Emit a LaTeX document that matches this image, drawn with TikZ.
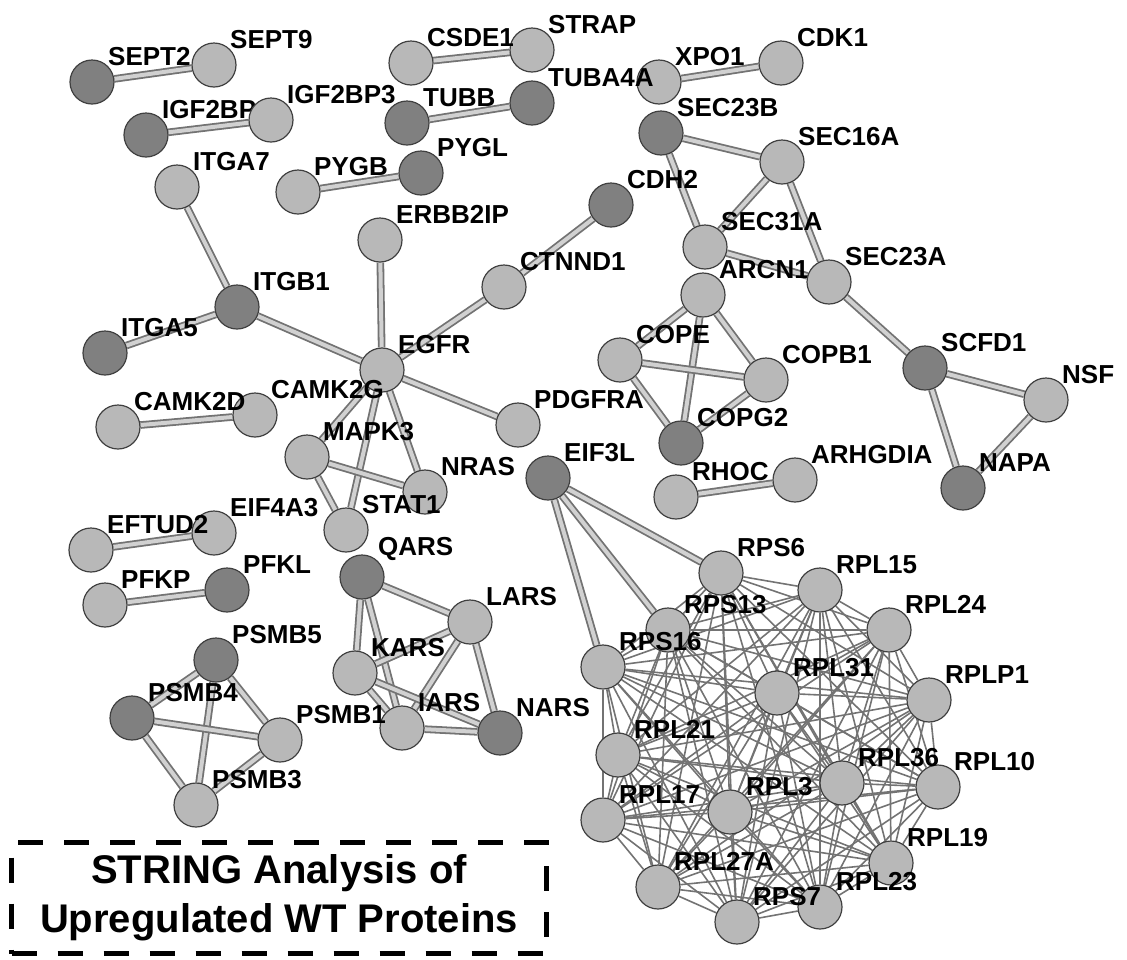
\documentclass[tikz,border=0pt]{standalone}
\usepackage{fontspec}
\setmainfont{Liberation Sans}
\usetikzlibrary{backgrounds}
\tikzset{
  ball/.style={circle,draw=black!75,line width=1.2pt,fill=black!28,minimum size=44pt,inner sep=0pt,label distance=4pt},
  lite/.style={},
  dark/.style={fill=black!50},
  lbl/.style={font=\fontsize{26}{26}\selectfont\bfseries,inner sep=0pt},
  link/.style={draw=black!55,line width=1.8pt,double=black!18,double distance=4pt},
  rlink/.style={draw=black!55,line width=1.6pt},
  titlebox/.style={draw,line width=5pt,dash pattern=on 25pt off 21pt,minimum width=535pt,minimum height=111pt,align=center,font=\fontsize{40}{49}\selectfont\bfseries}
}
\begin{document}
\begin{tikzpicture}[x=1pt,y=-1pt]
  \useasboundingbox (0,0) rectangle (1127,959);
  % proteins: name / x / y / label / shade
  \foreach \n/\x/\y/\t/\s in {
    sepb/214/65/SEPT9/lite, sepa/92/82/SEPT2/dark,
    igfa/146/135/IGF2BP/dark, igfb/271/120/IGF2BP3/lite,
    strap/532/50/STRAP/lite, csde/411/63/CSDE1/lite,
    xpo/659/82/XPO1/lite, cdk/781/63/CDK1/lite,
    tubb/407/123/TUBB/dark, tuba/532/103/TUBA4A/dark,
    pygb/298/192/PYGB/lite, pygl/421/173/PYGL/dark,
    itga7/177/187/ITGA7/lite, itgb1/237/307/ITGB1/dark, itga5/105/353/ITGA5/dark,
    erbb/380/240/ERBB2IP/lite, ctnnd/504/287/CTNND1/lite, cdh/611/205/CDH2/dark,
    egfr/382/370/EGFR/lite, pdgfra/518/425/PDGFRA/lite,
    camkg/255/415/CAMK2G/lite, camkd/118/427/CAMK2D/lite,
    mapk/307/457/MAPK3/lite, nras/425/492/NRAS/lite, stat/346/530/STAT1/lite,
    eif4/214/533/EIF4A3/lite, eftud/91/550/EFTUD2/lite,
    pfkl/227/590/PFKL/dark, pfkp/105/605/PFKP/lite,
    qars/362/577/QARS/dark, lars/470/622/LARS/lite, kars/355/673/KARS/lite,
    iars/402/728/IARS/lite, nars/500/733/NARS/dark,
    psmb5/216/660/PSMB5/dark, psmb4/132/718/PSMB4/dark, psmb1/280/740/PSMB1/lite, psmb3/196/805/PSMB3/lite,
    eif3/548/478/EIF3L/dark,
    secb/661/133/SEC23B/dark, sec16/782/162/SEC16A/lite,
    arcn/703/295/ARCN1/lite, sec31/705/247/SEC31A/lite, seca/829/282/SEC23A/lite,
    cope/620/360/COPE/lite, copb/766/380/COPB1/lite, rhoc/676/497/RHOC/lite, copg/681/443/COPG2/dark,
    arhg/795/480/ARHGDIA/lite,
    scfd/925/368/SCFD1/dark, nsf/1046/400/NSF/lite, napa/963/488/NAPA/dark}{
    \node[ball,\s,label={[lbl]45:\t}] (\n) at (\x,\y) {};
  }
  % ribosomal cluster
  \foreach \n/\x/\y/\t in {
    rps6/721/573/RPS6, rpl15/820/590/RPL15, rpl24/889/630/RPL24,
    rps13/668/630/RPS13, rps16/603/667/RPS16,
    rpl31/777/693/RPL31, rplp1/929/700/RPLP1, rpl10/938/787/RPL10,
    rpl36/842/783/RPL36, rpl19/891/863/RPL19, rpl23/820/907/RPL23,
    rps7/737/922/RPS7, rpl27a/658/887/RPL27A, rpl17/603/820/RPL17,
    rpl3/730/812/RPL3, rpl21/618/755/RPL21}{
    \node[ball,label={[lbl]45:\t}] (\n) at (\x,\y) {};
  }
  \begin{scope}[on background layer]
    \foreach \a/\b in {sepa/sepb, igfa/igfb, csde/strap, tubb/tuba, xpo/cdk, pygb/pygl,
      camkd/camkg, eftud/eif4, pfkp/pfkl, rhoc/arhg,
      itga7/itgb1, itga5/itgb1, itgb1/egfr, erbb/egfr, ctnnd/egfr, ctnnd/cdh,
      egfr/pdgfra, egfr/mapk, egfr/stat, egfr/nras, mapk/nras, mapk/stat,
      qars/lars, qars/kars, qars/iars, lars/kars, lars/iars, lars/nars,
      kars/iars, kars/nars, iars/nars,
      psmb5/psmb4, psmb5/psmb1, psmb5/psmb3, psmb4/psmb1, psmb4/psmb3, psmb1/psmb3,
      secb/sec16, secb/sec31, sec16/sec31, sec16/seca, sec31/seca,
      arcn/cope, arcn/copb, arcn/copg, cope/copb, cope/copg, copb/copg,
      seca/scfd, scfd/nsf, scfd/napa, nsf/napa,
      eif3/rps6, eif3/rps13, eif3/rps16}
      \draw[link] (\a) -- (\b);
    \foreach \a [count=\i] in {rps6,rpl15,rpl24,rpl31,rplp1,rpl36,rpl10,rpl19,rpl23,rps7,rpl27a,rpl17,rpl3,rpl21,rps16,rps13}
      \foreach \b [count=\j] in {rps6,rpl15,rpl24,rpl31,rplp1,rpl36,rpl10,rpl19,rpl23,rps7,rpl27a,rpl17,rpl3,rpl21,rps16,rps13}
        {\ifnum\j>\i \draw[rlink] (\a) -- (\b); \fi}
  \end{scope}
  \node[titlebox] (title) at (279,898) {STRING Analysis of\\Upregulated WT Proteins};
\end{tikzpicture}
\end{document}
